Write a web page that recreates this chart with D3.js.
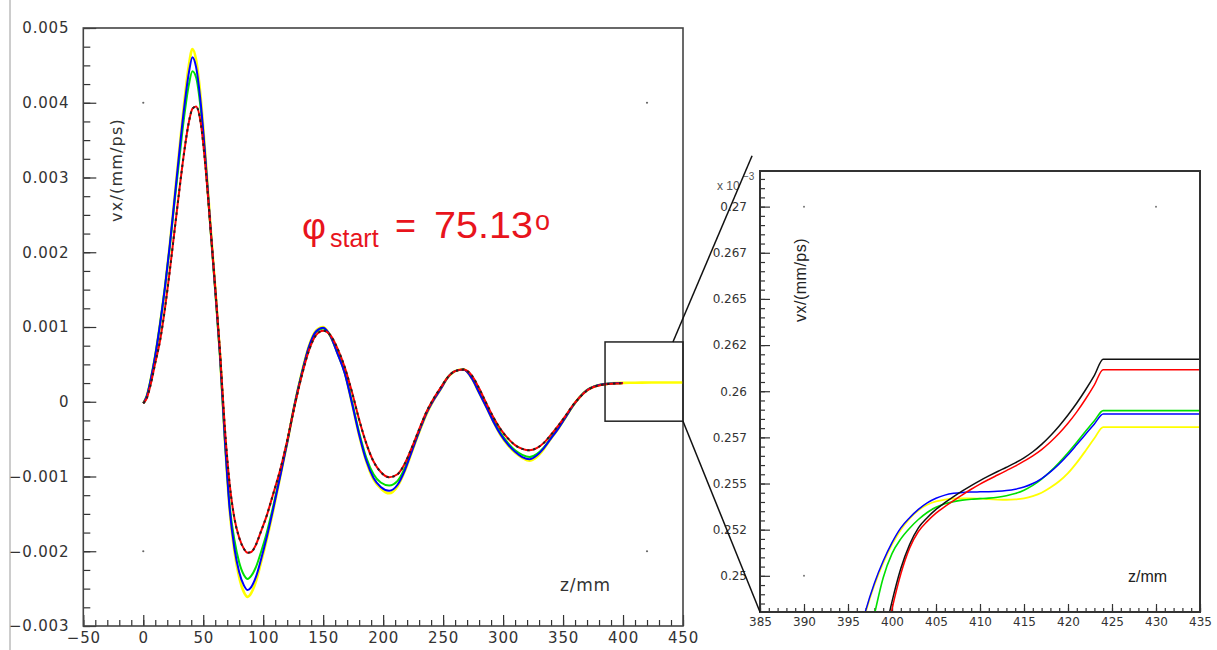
<!DOCTYPE html>
<html><head><meta charset="utf-8">
<script src="https://cdn.jsdelivr.net/npm/d3@7"></script>
<style>
html,body{margin:0;padding:0;background:#fff;}
svg{display:block;}
</style></head><body>
<svg id="c" width="1217" height="650"></svg>
<script>
// ---------- LEFT PANEL DATA (vx in 10^-3 mm/ps, z in mm) ----------
const zLeft = [0,3,6,10,14,18,22,26,30,34, 38,41,44,48,52,56,60,64,68,72, 76,80,84,87,90,94,98,103,108,114,
  120,126,132,138,144,150,156,162,168,174, 180,186,192,198,205,212,218,224,230,236,
  242,248,254,260,267,274,280,286,292,298, 304,310,316,322,328,334,340,346,352,358, 364,370,376,382,388,394,400];
const vYellowLeft = [-0.02,0.08,0.28,0.62,1.04,1.52,2.08,2.72,3.36,3.98,
  4.50,4.72,4.58,4.05,3.25,2.36,1.52,0.62,-0.50,-1.45,
  -2.00,-2.35,-2.55,-2.61,-2.56,-2.40,-2.16,-1.84,-1.48,-1.02,
  -0.55,-0.05,0.38,0.74,0.95,1.00,0.88,0.65,0.39,-0.02,
  -0.45,-0.80,-1.04,-1.16,-1.225,-1.13,-0.93,-0.67,-0.41,-0.17,
  0.02,0.17,0.33,0.41,0.435,0.31,0.12,-0.07,-0.27,-0.45,
  -0.58,-0.68,-0.75,-0.79,-0.74,-0.63,-0.49,-0.36,-0.21,-0.06,
  0.065,0.155,0.205,0.23,0.243,0.249,0.252];
const vBlueLeft = [-0.02,0.08,0.28,0.62,1.04,1.52,2.08,2.70,3.33,3.92,
  4.40,4.61,4.48,3.98,3.22,2.34,1.50,0.61,-0.50,-1.43,
  -1.96,-2.28,-2.46,-2.52,-2.48,-2.34,-2.12,-1.81,-1.46,-1.01,
  -0.55,-0.05,0.37,0.73,0.94,0.99,0.88,0.64,0.38,-0.02,
  -0.44,-0.79,-1.02,-1.14,-1.19,-1.11,-0.92,-0.66,-0.40,-0.16,
  0.02,0.17,0.33,0.41,0.43,0.31,0.12,-0.07,-0.27,-0.44,
  -0.57,-0.67,-0.74,-0.77,-0.72,-0.62,-0.49,-0.36,-0.21,-0.06,
  0.065,0.155,0.205,0.23,0.243,0.249,0.251];
const vGreenLeft = [-0.02,0.08,0.28,0.62,1.04,1.52,2.06,2.66,3.24,3.80,
  4.24,4.42,4.34,3.90,3.18,2.32,1.48,0.60,-0.49,-1.38,
  -1.85,-2.15,-2.32,-2.37,-2.33,-2.21,-2.02,-1.75,-1.42,-0.99,
  -0.54,-0.05,0.37,0.72,0.93,0.98,0.88,0.65,0.39,0.00,
  -0.41,-0.75,-0.97,-1.08,-1.12,-1.06,-0.89,-0.64,-0.39,-0.15,
  0.03,0.18,0.33,0.41,0.43,0.32,0.13,-0.06,-0.25,-0.42,
  -0.55,-0.65,-0.71,-0.74,-0.70,-0.61,-0.48,-0.35,-0.21,-0.06,
  0.065,0.155,0.205,0.23,0.242,0.248,0.251];
const vRedLeft = [-0.02,0.05,0.22,0.52,0.82,1.24,1.74,2.28,2.82,3.33,
  3.74,3.92,3.95,3.72,3.12,2.34,1.52,0.66,-0.35,-1.10,
  -1.56,-1.82,-1.97,-2.02,-2.01,-1.91,-1.74,-1.52,-1.25,-0.92,
  -0.52,-0.07,0.34,0.68,0.89,0.95,0.89,0.71,0.46,0.13,
  -0.24,-0.56,-0.80,-0.94,-1.01,-0.97,-0.83,-0.61,-0.37,-0.14,
  0.04,0.19,0.33,0.41,0.43,0.35,0.18,-0.02,-0.21,-0.37,
  -0.49,-0.58,-0.63,-0.65,-0.62,-0.55,-0.44,-0.32,-0.19,-0.05,
  0.06,0.15,0.20,0.225,0.238,0.245,0.249];
const vBlackLeft = [-0.02,0.05,0.22,0.52,0.82,1.24,1.74,2.28,2.82,3.33,
  3.74,3.92,3.95,3.72,3.12,2.34,1.52,0.66,-0.35,-1.10,
  -1.56,-1.82,-1.97,-2.02,-2.01,-1.91,-1.74,-1.52,-1.25,-0.92,
  -0.52,-0.07,0.34,0.68,0.89,0.95,0.89,0.71,0.46,0.13,
  -0.24,-0.56,-0.80,-0.94,-1.01,-0.97,-0.83,-0.61,-0.37,-0.14,
  0.04,0.19,0.33,0.41,0.43,0.35,0.18,-0.02,-0.21,-0.37,
  -0.49,-0.58,-0.63,-0.65,-0.62,-0.55,-0.44,-0.32,-0.19,-0.05,
  0.06,0.15,0.20,0.225,0.238,0.245,0.249];
const zYellowTail = [400,410,424,450];
const vYellowTail = [0.252,0.2541,0.2581,0.2581];

const xTicksLeft = [-50,0,50,100,150,200,250,300,350,400,450];
const xTickLabelsLeft = ["\u221250","0","50","100","150","200","250","300","350","400","450"];
const yTicksLeft = [-3,-2,-1,0,1,2,3,4,5];
const yTickLabelsLeft = ["\u22120.003","\u22120.002","\u22120.001","0","0.001","0.002","0.003","0.004","0.005"];

// ---------- RIGHT PANEL DATA (zoom, vx in 10^-3 mm/ps) ----------
const zRight = [396,397,398,399,400,401,402,403,404,405,406,407,408,409,410,411,412,413,414,415,416,417,418,419,420,421,422,423,424,435];
const vBlackRight = [0.2378,0.2410,0.2439,0.2464,0.2486,0.2504,0.2517,0.2526,0.25315,0.2536,0.25396,0.25429,0.2546,0.25489,0.25516,
  0.25541,0.25565,0.25588,0.25612,0.25639,0.25672,0.25712,0.25759,0.25812,0.25871,0.25936,0.26008,0.26086,0.26173,0.26173];
const vRedRight = [0.2373,0.2405,0.2434,0.2459,0.2482,0.2501,0.2515,0.2524,0.25295,0.2534,0.25375,0.25407,0.25439,0.25469,0.25497,
  0.25522,0.25546,0.2557,0.25594,0.25621,0.2565,0.25684,0.25725,0.25772,0.25826,0.25888,0.25958,0.26035,0.26117,0.26117];
const vGreenRight = [0.2428,0.2456,0.2479,0.2499,0.2512,0.2520,0.25258,0.25305,0.25343,0.25371,0.2539,0.25402,0.2541,0.25415,0.25418,
  0.25421,0.25426,0.25434,0.25446,0.25464,0.2549,0.25524,0.25566,0.25614,0.25667,0.25724,0.25783,0.2584,0.25895,0.25895];
const vBlueRight = [0.2462,0.2481,0.2496,0.2508,0.2518,0.2526,0.25315,0.2536,0.25395,0.2542,0.25437,0.25447,0.25452,0.25454,0.25455,
  0.25456,0.25458,0.25462,0.25469,0.25481,0.255,0.25527,0.25563,0.25606,0.25656,0.25711,0.25767,0.25823,0.25877,0.25877];
const vYellowRight = [0.2459,0.2480,0.2495,0.2507,0.2517,0.2525,0.2531,0.25355,0.25385,0.25403,0.25413,0.25418,0.2542,0.2542,0.25418,
  0.25415,0.25413,0.25412,0.25414,0.2542,0.25432,0.2545,0.25478,0.25512,0.25556,0.25613,0.25678,0.25745,0.25806,0.25806];

const xTicksRight = [385,390,395,400,405,410,415,420,425,430,435];
const xTickLabelsRight = ["385","390","395","400","405","410","415","420","425","430","435"];
const yTicksRight = [0.25,0.2525,0.255,0.2575,0.26,0.2625,0.265,0.2675,0.27];
const yTickLabelsRight = ["0.25","0.252","0.255","0.257","0.26","0.262","0.265","0.267","0.27"];

// ---------- DRAWING ----------
const svg = d3.select("#c");
const FONT = "'DejaVu Sans', Verdana, sans-serif";
const ARIAL = "'Liberation Sans', Arial, sans-serif";

const xL = d3.scaleLinear().domain([-50,450]).range([83.3,683]);
const yL = d3.scaleLinear().domain([-3,5]).range([626,28]);
const xR = d3.scaleLinear().domain([385,435]).range([760,1200]);
const yR = d3.scaleLinear().domain([0.24804,0.27193]).range([612,171]);

// page border line on far left
svg.append("line").attr("x1",10).attr("x2",10).attr("y1",0).attr("y2",650)
  .attr("stroke","#9a9a9a").attr("stroke-width",1);

function styleAxis(g, size, spacing, fam){
  g.select(".domain").remove();
  g.attr("color","#333");
  g.selectAll("text").attr("font-family",fam).attr("font-size",size)
    .attr("letter-spacing",spacing).attr("fill","#333");
  g.selectAll("line").attr("stroke-width",1.2);
}
const lab = (ticks, labels) => d => labels[ticks.indexOf(d)];

// ---- left axes ----
const minorYL = d3.range(-3, 5.0001, 0.25).map(v=>+v.toFixed(2));
const minorXL = d3.range(-50, 450.001, 10);
svg.append("g").attr("transform",`translate(${xL(-50)},0)`)
  .call(d3.axisLeft(yL).tickValues(minorYL).tickFormat(()=>"").tickSize(-7))
  .call(g=>styleAxis(g,15,0.8,FONT));
svg.append("g").attr("transform",`translate(${xL(-50)},0)`)
  .call(d3.axisLeft(yL).tickValues(yTicksLeft).tickFormat(lab(yTicksLeft,yTickLabelsLeft)).tickSize(-13).tickPadding(14))
  .call(g=>styleAxis(g,15,0.8,FONT));
svg.append("g").attr("transform",`translate(0,${yL(-3)})`)
  .call(d3.axisBottom(xL).tickValues(minorXL).tickFormat(()=>"").tickSize(-6))
  .call(g=>styleAxis(g,15,0.8,FONT));
svg.append("g").attr("transform",`translate(0,${yL(-3)})`)
  .call(d3.axisBottom(xL).tickValues(xTicksLeft).tickFormat(lab(xTicksLeft,xTickLabelsLeft)).tickSize(-11).tickPadding(6))
  .call(g=>styleAxis(g,15,0.8,FONT));

// left frame
svg.append("rect").attr("x",xL(-50)).attr("y",yL(5)).attr("width",xL(450)-xL(-50)).attr("height",yL(-3)-yL(5))
  .attr("fill","none").attr("stroke","#444").attr("stroke-width",1.6);

// left dots
[[0,4],[420,4],[0,-2],[420,-2]].forEach(p=>svg.append("circle").attr("cx",xL(p[0])).attr("cy",yL(p[1])).attr("r",1.1).attr("fill","#666"));

// left curves
const lineL = d3.line().x(d=>xL(d[0])).y(d=>yL(d[1])).curve(d3.curveMonotoneX);
const zip = (zs, vs) => zs.map((z,i)=>[z, vs[i]]);
const gCL = svg.append("g").attr("fill","none");
gCL.append("path").attr("d", lineL(zip(zLeft.concat(zYellowTail.slice(1)), vYellowLeft.concat(vYellowTail.slice(1)))))
  .attr("stroke","#ffff00").attr("stroke-width",2.6);
gCL.append("path").attr("d", lineL(zip(zLeft, vGreenLeft))).attr("stroke","#00e000").attr("stroke-width",2);
gCL.append("path").attr("d", lineL(zip(zLeft, vBlueLeft))).attr("stroke","#0000ff").attr("stroke-width",2);
gCL.append("path").attr("d", lineL(zip(zLeft, vRedLeft))).attr("stroke","#ff0000").attr("stroke-width",2);
gCL.append("path").attr("d", lineL(zip(zLeft, vBlackLeft))).attr("stroke","#222").attr("stroke-width",2)
  .attr("stroke-dasharray","2.5,3.5");

// inset box on left
svg.append("rect").attr("x",xL(385)).attr("y",yL(0.8)).attr("width",xL(450)-xL(385)).attr("height",yL(-0.26)-yL(0.8))
  .attr("fill","none").attr("stroke","#222").attr("stroke-width",1.5);

// left texts
svg.append("text").attr("transform",`translate(122,170) rotate(-90)`).attr("text-anchor","middle")
  .attr("font-family",FONT).attr("font-size",16).attr("letter-spacing",1.2).attr("fill","#333").text("vx/(mm/ps)");
svg.append("text").attr("x",560).attr("y",591).attr("font-family",FONT).attr("font-size",17)
  .attr("letter-spacing",0.8).attr("fill","#333").text("z/mm");

// title
const RED = "#e8141c";
svg.append("text").attr("x",302).attr("y",239).attr("font-family",ARIAL).attr("font-size",37).attr("fill",RED).text("\u03c6");
svg.append("text").attr("x",330).attr("y",247).attr("font-family",ARIAL).attr("font-size",25).attr("fill",RED).text("start");
svg.append("text").attr("x",395).attr("y",238).attr("font-family",ARIAL).attr("font-size",36).attr("fill",RED).text("=");
svg.append("text").attr("x",434).attr("y",238).attr("font-family",ARIAL).attr("font-size",36).attr("fill",RED)
  .attr("textLength",99).attr("lengthAdjust","spacingAndGlyphs").text("75.13");
svg.append("text").attr("x",535).attr("y",230).attr("font-family",ARIAL).attr("font-size",27).attr("fill",RED).text("o");

// ---- right axes ----
const minorYR = d3.range(0, 49).map(i=>+(0.2485 + i*0.0005).toFixed(4)).filter(v=>v<=0.2719);
const minorXR = d3.range(385, 435.001, 1);
svg.append("g").attr("transform",`translate(${xR(385)},0)`)
  .call(d3.axisLeft(yR).tickValues(minorYR).tickFormat(()=>"").tickSize(-5))
  .call(g=>styleAxis(g,12,0,FONT));
svg.append("g").attr("transform",`translate(${xR(385)},0)`)
  .call(d3.axisLeft(yR).tickValues(yTicksRight).tickFormat(lab(yTicksRight,yTickLabelsRight)).tickSize(-10).tickPadding(13))
  .call(g=>styleAxis(g,12,0,FONT));
svg.append("g").attr("transform",`translate(0,${yR.range()[0]})`)
  .call(d3.axisBottom(xR).tickValues(minorXR).tickFormat(()=>"").tickSize(-4))
  .call(g=>styleAxis(g,12,0,FONT));
svg.append("g").attr("transform",`translate(0,${yR.range()[0]})`)
  .call(d3.axisBottom(xR).tickValues(xTicksRight).tickFormat(lab(xTicksRight,xTickLabelsRight)).tickSize(-8).tickPadding(5))
  .call(g=>styleAxis(g,12,0,FONT));

// right dots
[[390,0.27],[430,0.27],[390,0.25],[430,0.25]].forEach(p=>svg.append("circle").attr("cx",xR(p[0])).attr("cy",yR(p[1])).attr("r",1).attr("fill","#777"));

// clip for right curves
svg.append("clipPath").attr("id","clipR").append("rect")
  .attr("x",xR(385)).attr("y",yR.range()[1]).attr("width",xR(435)-xR(385)).attr("height",yR.range()[0]-yR.range()[1]);
const lineR = d3.line().x(d=>xR(d[0])).y(d=>yR(d[1])).curve(d3.curveMonotoneX);
const gCR = svg.append("g").attr("fill","none").attr("clip-path","url(#clipR)");
gCR.append("path").attr("d", lineR(zip(zRight, vYellowRight))).attr("stroke","#ffff00").attr("stroke-width",1.8);
gCR.append("path").attr("d", lineR(zip(zRight, vGreenRight))).attr("stroke","#00e000").attr("stroke-width",1.6);
gCR.append("path").attr("d", lineR(zip(zRight, vBlueRight))).attr("stroke","#0000ff").attr("stroke-width",1.5);
gCR.append("path").attr("d", lineR(zip(zRight, vRedRight))).attr("stroke","#ff0000").attr("stroke-width",1.5);
gCR.append("path").attr("d", lineR(zip(zRight, vBlackRight))).attr("stroke","#111").attr("stroke-width",1.5);

// right frame
svg.append("rect").attr("x",xR(385)).attr("y",yR.range()[1]).attr("width",xR(435)-xR(385)).attr("height",yR.range()[0]-yR.range()[1])
  .attr("fill","none").attr("stroke","#333").attr("stroke-width",2);

// right texts
svg.append("text").attr("x",717).attr("y",190).attr("font-family",ARIAL).attr("font-size",12).attr("fill","#555").text("x 10");
svg.append("text").attr("x",743).attr("y",180).attr("font-family",ARIAL).attr("font-size",10).attr("fill","#555").text("\u22123");
svg.append("text").attr("transform",`translate(806,280) rotate(-90)`).attr("text-anchor","middle")
  .attr("font-family",ARIAL).attr("font-size",16).attr("letter-spacing",0.5).attr("fill","#222").text("vx/(mm/ps)");
svg.append("text").attr("x",1128).attr("y",582).attr("font-family",ARIAL).attr("font-size",16).attr("fill","#222").text("z/mm");

// connector lines
svg.append("line").attr("x1",xL(441.6)).attr("y1",yL(0.8)).attr("x2",xR(384.1)).attr("y2",yR(0.27276))
  .attr("stroke","#111").attr("stroke-width",1.5);
svg.append("line").attr("x1",xL(450)).attr("y1",yL(-0.26)).attr("x2",xR(385)).attr("y2",yR(0.24804))
  .attr("stroke","#111").attr("stroke-width",1.5);
</script>
</body></html>
